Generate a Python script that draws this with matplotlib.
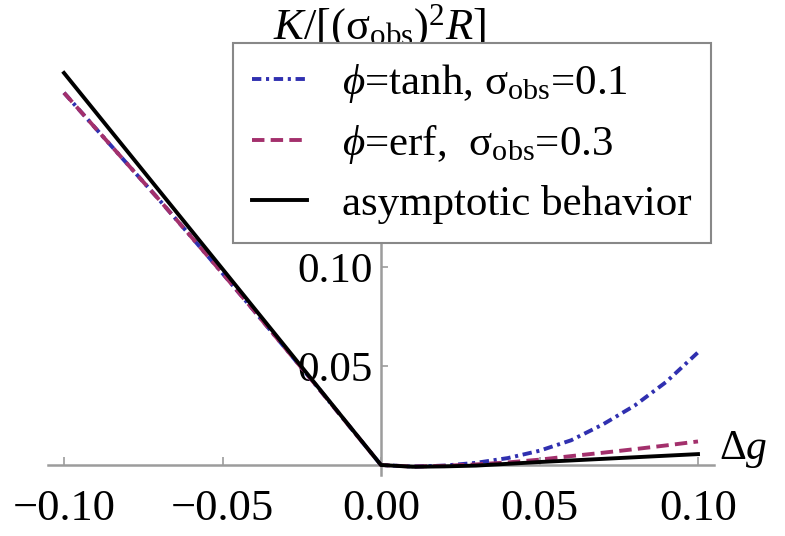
import matplotlib
matplotlib.use('Agg')
import matplotlib.pyplot as plt

plt.rcParams['font.family'] = ['Liberation Serif', 'DejaVu Serif']
plt.rcParams['mathtext.fontset'] = 'custom'
plt.rcParams['mathtext.rm'] = 'Liberation Serif'
plt.rcParams['mathtext.it'] = 'Liberation Serif:italic'
plt.rcParams['mathtext.bf'] = 'Liberation Serif:bold'

# data
dg = [-0.10, -0.09, -0.08, -0.07, -0.06, -0.05, -0.04, -0.03, -0.02, -0.01, 0.0,
      0.01, 0.02, 0.03, 0.04, 0.05, 0.06, 0.07, 0.08, 0.09, 0.10]
k_tanh = [0.188, 0.170, 0.152, 0.134, 0.1155, 0.0968, 0.0778, 0.0586, 0.0393, 0.0196, 0.0,
          -0.0008, -0.0003, 0.0011, 0.0035, 0.0072, 0.0125, 0.0205, 0.0300, 0.0420, 0.0569]
k_erf = [0.188, 0.170, 0.152, 0.134, 0.1155, 0.0968, 0.0778, 0.0586, 0.0393, 0.0196, 0.0,
         -0.0008, -0.0004, 0.0003, 0.0013, 0.0027, 0.0045, 0.0062, 0.0080, 0.0099, 0.0119]
k_asym = [0.198, 0.1782, 0.1584, 0.1386, 0.1188, 0.099, 0.0792, 0.0594, 0.0396, 0.0198, 0.0,
          -0.0009, -0.0007, -0.0003, 0.0006, 0.0015, 0.0023, 0.0031, 0.0039, 0.0047, 0.0055]

labels = [r'$ϕ$=tanh, σ$_{\mathrm{obs}}$=0.1',
          r'$ϕ$=erf,  σ$_{\mathrm{obs}}$=0.3',
          'asymptotic behavior']
xticks = [-0.10, -0.05, 0.0, 0.05, 0.10]
xticklabels = ['\u22120.10', '\u22120.05', '0.00', '0.05', '0.10']
yticks = [0.05, 0.10]
yticklabels = ['0.05', '0.10']

W, H = 785, 536
fig = plt.figure(figsize=(W / 100, H / 100), dpi=100)
ax = fig.add_axes([48.15 / W, 61.1 / H, 665.7 / W, 425.7 / H])
ax.set_xlim(-0.105, 0.105)
ax.set_ylim(-0.005, 0.21)

blue = '#3030b0'
mag = '#a3306c'
l1, = ax.plot(dg, k_tanh, color=blue, lw=2.8, dashes=(2.4, 1.2, 0.8, 1.2), zorder=3)
l2, = ax.plot(dg, k_erf, color=mag, lw=2.8, dashes=(3.2, 1.6), zorder=4)
l3, = ax.plot(dg, k_asym, color='black', lw=2.8, zorder=5)

axis_col = '#9c9c9c'
for s in ['top', 'right']:
    ax.spines[s].set_visible(False)
ax.spines['left'].set_position(('data', 0))
ax.spines['bottom'].set_position(('data', 0))
for s in ['left', 'bottom']:
    ax.spines[s].set_color(axis_col)
    ax.spines[s].set_linewidth(1.8)
    ax.spines[s].set_zorder(1)

ax.set_xticks(xticks)
ax.set_xticklabels(xticklabels)
ax.set_yticks(yticks)
ax.set_yticklabels(yticklabels)
ax.tick_params(axis='x', direction='in', length=6, width=1.2, color=axis_col,
               pad=17, labelsize=32)
ax.tick_params(axis='y', direction='in', length=5, width=1.2, color=axis_col,
               pad=6, labelsize=31)
ax.patch.set_alpha(0)

ax.text(0.1065, 0.008, r'$\mathrm{Δ}g$', fontsize=30, ha='left', va='center')
fig.text(380 / W, 1 - 27 / H, r'$K/[(\mathrm{σ_{obs}})^{2}R]$', fontsize=32,
         ha='center', va='center')

leg = fig.legend([l1, l2, l3], labels, loc='upper left',
                 bbox_to_anchor=(233 / W, 1 - 43 / H), bbox_transform=fig.transFigure,
                 fontsize=31, frameon=True, fancybox=False, framealpha=1,
                 edgecolor='#888888', handlelength=1.27, handletextpad=0.8,
                 labelspacing=0.42, borderpad=0.45, borderaxespad=0)
leg.get_frame().set_linewidth(1.5)
leg.set_zorder(10)

fig.savefig('out.png', dpi=100)
